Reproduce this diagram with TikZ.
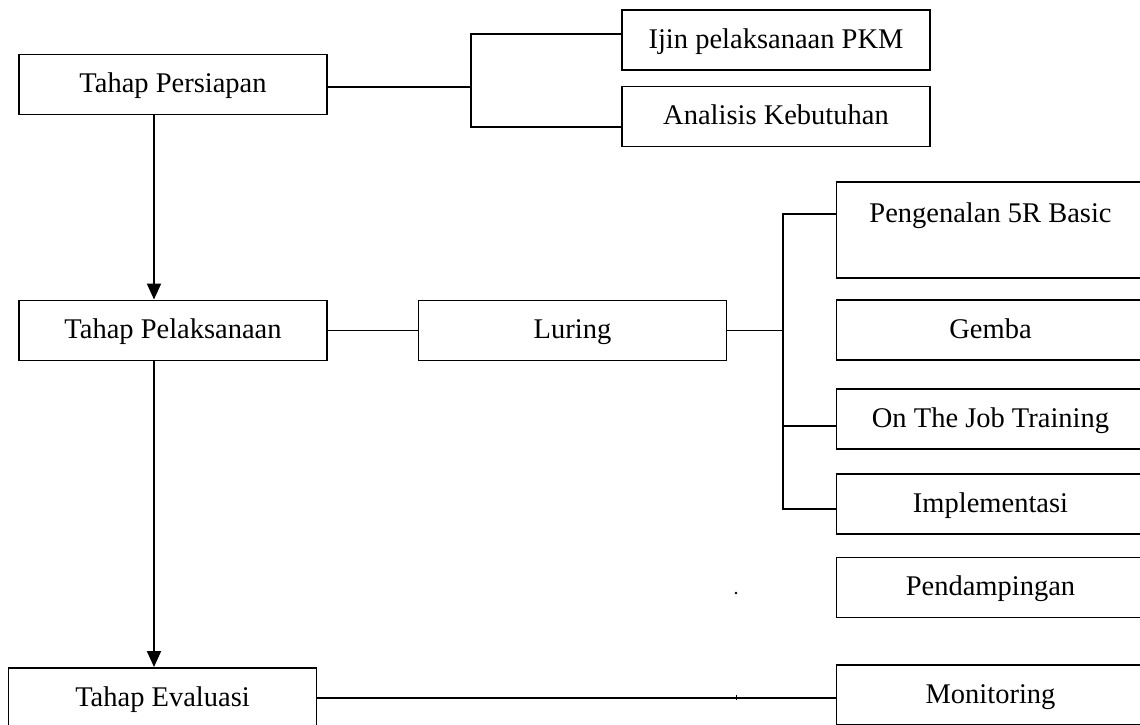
\documentclass[tikz,border=0pt]{standalone}
\usepackage{fontspec}
\setmainfont{Liberation Serif}
\usetikzlibrary{arrows.meta}
\tikzset{
  box/.style={draw, line width=1.9pt, rectangle, inner sep=0pt,
    minimum width=308pt, minimum height=60pt,
    text height=24pt, text depth=8pt,
    font=\fontsize{28.5}{33}\selectfont},
  tallbox/.style={box, minimum height=96pt, text height=40pt, text depth=56pt},
  link/.style={line width=1.9pt},
  flow/.style={line width=1.9pt, -{Triangle[length=16pt,width=14pt]}},
}
\begin{document}
\begin{tikzpicture}[x=1pt,y=-1pt]
\useasboundingbox (0,0) rectangle (1140,724);
\clip (0,0) rectangle (1140,724);
% left column
\node[box] (pers) at (173,84.5) {Tahap Persiapan};
\node[box] (pel) at (173,330.5) {Tahap Pelaksanaan};
\node[box] (eval) at (162.5,698) {Tahap Evaluasi};
% preparation branch
\node[box] (ijin) at (776,40) {Ijin pelaksanaan PKM};
\node[box] (anal) at (776,116.5) {Analisis Kebutuhan};
% execution branch
\node[box] (luring) at (572.5,330.5) {Luring};
\node[tallbox] (pk) at (990.5,230) {Pengenalan 5R Basic};
\node[box] (gemba) at (990.5,330) {Gemba};
\node[box] (ojt) at (990.5,419) {On The Job Training};
\node[box] (impl) at (990.5,504) {Implementasi};
\node[box] (pend) at (990.5,587.5) {Pendampingan};
\node[box] (mon) at (990.5,695) {Monitoring};
% junction coordinates
\coordinate (jt) at (471,34);
\coordinate (jm) at (471,87);
\coordinate (jb) at (471,127);
\coordinate (lt) at (783,214);
\coordinate (lo) at (783,426);
\coordinate (lb) at (783,509);
\coordinate (ax) at (154,0);
% preparation connectors
\draw[link] (jm -| pers.east) -- (jm);
\draw[link] (jt -| ijin.west) -- (jt) -- (jb) -- (jb -| anal.west);
% execution connectors
\draw[link] (pel.east) -- (luring.west);
\draw[link] (luring.east) -- (luring.east -| lt);
\draw[link] (lt -| pk.west) -- (lt) -- (lb) -- (lb -| impl.west);
\draw[link] (lo) -- (lo -| ojt.west);
% evaluation connector
\draw[link] (eval.east) -- (eval.east -| mon.west);
% flow arrows
\draw[flow] (pers.south -| ax) -- (pel.north -| ax);
\draw[flow] (pel.south -| ax) -- (eval.north -| ax);
% stray marks
\fill (736,593) circle (1.3pt);
\draw[line width=1pt] (736,695) -- (736,700);
\end{tikzpicture}
\end{document}
